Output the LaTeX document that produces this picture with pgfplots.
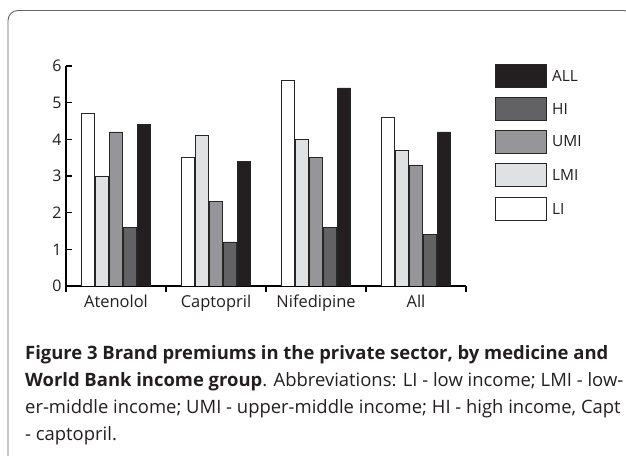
\documentclass[border=0pt]{standalone}
\usepackage{fontspec}
\setmainfont{Open Sans}
\usepackage{pgfplots}
\pgfplotsset{compat=1.18}
\definecolor{cLI}{HTML}{FFFFFF}
\definecolor{cLMI}{HTML}{E0E1E3}
\definecolor{cUMI}{HTML}{95959A}
\definecolor{cHI}{HTML}{626264}
\definecolor{cALL}{HTML}{231F20}
\definecolor{txt}{HTML}{231F20}
\begin{document}
\begin{tikzpicture}[x=1bp,y=1bp]
\useasboundingbox (0,0) rectangle (626,456);
\begin{scope}
\clip (0,0) rectangle (626,456);
\draw[color=black!60, line width=0.9bp, rounded corners=10bp] (8,-30) -- (8,445.5) -- (634,445.5) -- (634,-30);
\end{scope}
\begin{axis}[
  at={(66bp,170bp)}, anchor=south west,
  scale only axis, width=400bp, height=220bp,
  xmin=-0.5, xmax=3.5, ymin=0, ymax=6,
  axis x line*=bottom, axis y line*=left,
  ytick={0,1,2,3,4,5,6},
  xtick={-0.5,0.5,1.5,2.5,3.5},
  x tick label as interval,
  xticklabels={Atenolol,Captopril,Nifedipine,All},
  tick align=inside, major tick length=6bp,
  axis line style={line width=1.2bp, black},
  tick style={line width=1.2bp, black},
  /pgf/number format/assume math mode=true,
  xticklabel style={font=\fontsize{16.5}{18}\selectfont, text=txt, yshift=1bp},
  yticklabel style={font=\fontsize{16}{18}\selectfont, text=txt, xshift=-1bp},
  ybar=1bp, bar width=13bp,
  every axis plot/.append style={draw=black!85, line width=0.8bp},
]
\addplot[fill=cLI]  coordinates {(0,4.7) (1,3.5) (2,5.6) (3,4.6)};
\addplot[fill=cLMI] coordinates {(0,3.0) (1,4.1) (2,4.0) (3,3.7)};
\addplot[fill=cUMI] coordinates {(0,4.2) (1,2.3) (2,3.5) (3,3.3)};
\addplot[fill=cHI]  coordinates {(0,1.6) (1,1.2) (2,1.6) (3,1.4)};
\addplot[fill=cALL] coordinates {(0,4.4) (1,3.4) (2,5.4) (3,4.2)};
\end{axis}
\foreach \nm/\col/\yy in {ALL/cALL/64, HI/cHI/97, UMI/cUMI/130, LMI/cLMI/163, LI/cLI/197}{
  \draw[fill=\col, draw=black!85, line width=0.8bp] (495,456-\yy) rectangle (546,456-\yy-23);
  \node[anchor=west, inner sep=0pt, text=txt, font=\fontsize{15.5}{17}\selectfont] at (552,456-\yy-11.5) {\nm};
}
\begin{scope}[every node/.style={anchor=base west, inner sep=0pt, text=txt, font=\fontsize{18.5}{22}\selectfont}]
\node at (25,96) {\bfseries Figure 3 Brand premiums in the private sector, by medicine and};
\node at (25,69) {{\bfseries World Bank income group}. Abbreviations: LI - low income; LMI - low-};
\node at (25,42) {er-middle income; UMI - upper-middle income; HI - high income, Capt};
\node at (25,15) {- captopril.};
\end{scope}
\end{tikzpicture}
\end{document}
